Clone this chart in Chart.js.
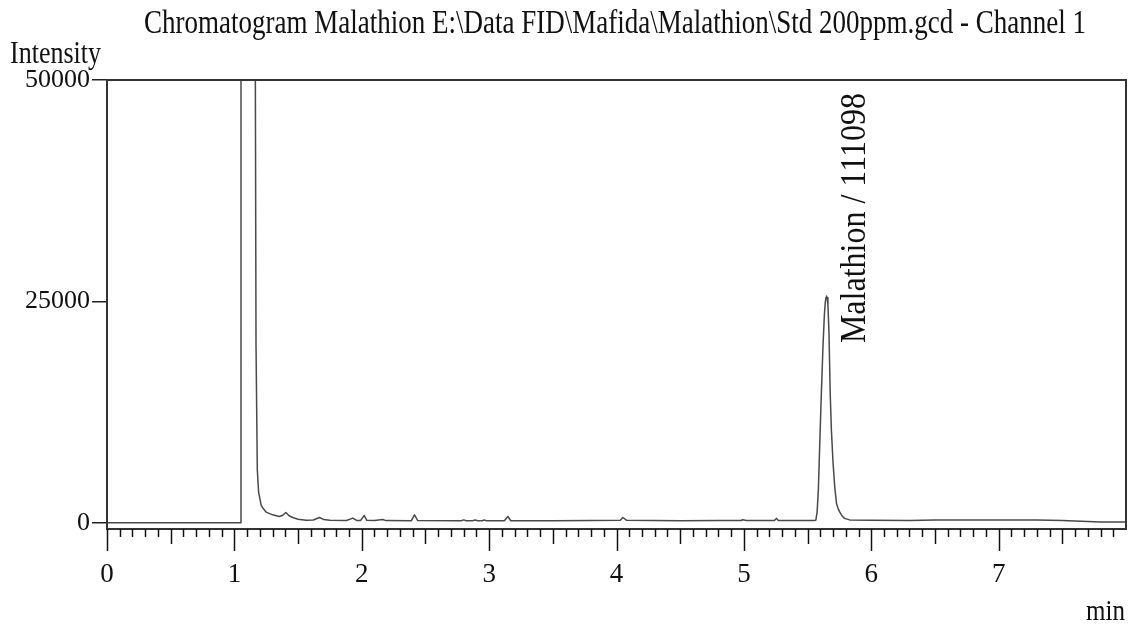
<!DOCTYPE html>
<html>
<head>
<meta charset="utf-8">
<script src="https://cdn.jsdelivr.net/npm/chart.js@4.4.1/dist/chart.umd.min.js"></script>
<style>
html,body{margin:0;padding:0;background:#fff;}
#wrap{width:1136px;height:627px;}
</style>
</head>
<body>
<div id="wrap"><canvas id="c" width="1136" height="627"></canvas></div>
<script>
// ---- data ----
const titleText = "Chromatogram Malathion E:\\Data FID\\Mafida\\Malathion\\Std 200ppm.gcd - Channel 1";
const yAxisTitle = "Intensity";
const xAxisTitle = "min";
const yTickValues = [0, 25000, 50000];
const xTickValues = [0, 1, 2, 3, 4, 5, 6, 7];
const peakLabelText = ["Malathion / 111098"];
const peakLabelTime = [5.65];
const peakLabelHeight = [25600];

const times = [
  0, 0.5, 1.0, 1.052, 1.056, 1.16, 1.163, 1.17, 1.18, 1.19, 1.21, 1.222, 1.25, 1.30,
  1.353, 1.38, 1.404, 1.43, 1.458, 1.50, 1.563, 1.62, 1.668, 1.70, 1.75, 1.88, 1.93,
  1.96, 1.99, 2.02, 2.04, 2.10, 2.165, 2.19, 2.39, 2.414, 2.44, 2.78, 2.80, 2.82,
  2.87, 2.89, 2.91, 2.95, 2.96, 2.98, 3.12, 3.147, 3.17, 3.5, 3.8, 4.03, 4.05, 4.08,
  4.5, 4.8, 4.98, 4.99, 5.02, 5.24, 5.255, 5.27, 5.55, 5.565, 5.575, 5.585, 5.595,
  5.608, 5.621, 5.632, 5.64, 5.645, 5.649, 5.654, 5.66, 5.668, 5.678, 5.687, 5.70,
  5.713, 5.727, 5.74, 5.753, 5.77, 5.79, 5.83, 6.0, 6.3, 6.5, 7.0, 7.3, 7.5, 7.8, 8.0
];
const intensity = [
  0, 0, 0, 0, 2000000, 2000000, 60000, 20000, 6000, 3500, 2000, 1700, 1200, 900,
  710, 850, 1160, 800, 600, 400, 300, 320, 600, 380, 300, 260, 530,
  270, 260, 820, 280, 250, 380, 250, 240, 900, 250, 240, 330, 240,
  240, 320, 240, 240, 320, 240, 230, 710, 230, 220, 250, 280, 600, 280,
  230, 260, 260, 350, 250, 250, 500, 260, 270, 300, 1200, 3800, 8600,
  14500, 19900, 23500, 25000, 25450, 25600, 25400, 24600, 21500, 14500, 10500, 6800,
  4100, 2200, 1600, 1200, 800, 500, 330, 280, 260, 320, 330, 320, 250, 100, 80
];

const serif = '"Liberation Serif", "Times New Roman", serif';

function stretchedText(ctx, text, x, y, sy) {
  ctx.save();
  ctx.translate(x, y);
  ctx.scale(1, sy);
  ctx.fillText(text, 0, 0);
  ctx.restore();
}

const decorPlugin = {
  id: 'decor',
  afterDraw(chart) {
    const ctx = chart.ctx;
    const a = chart.chartArea;
    const xs = chart.scales.x, ys = chart.scales.y;
    ctx.save();
    // plot frame
    ctx.strokeStyle = '#333';
    ctx.lineWidth = 2;
    ctx.strokeRect(a.left, a.top, a.right - a.left, a.bottom - a.top);
    // x ticks: every 0.1 min, longer at 0.5 and 1
    ctx.strokeStyle = '#111';
    ctx.lineWidth = 1.5;
    for (let i = 0; i < 80; i++) {
      const v = i / 10;
      const px = Math.round(xs.getPixelForValue(v)) + 0.5;
      const len = (i % 10 === 0) ? 22 : (i % 5 === 0 ? 15 : 8);
      ctx.beginPath();
      ctx.moveTo(px, a.bottom);
      ctx.lineTo(px, a.bottom + len);
      ctx.stroke();
    }
    // texts
    ctx.fillStyle = '#111';
    ctx.textBaseline = 'alphabetic';
    ctx.font = '27px ' + serif;
    ctx.textAlign = 'center';
    stretchedText(ctx, titleText, 615, 33, 1.25);
    ctx.font = '26px ' + serif;
    ctx.textAlign = 'left';
    stretchedText(ctx, yAxisTitle, 10, 63, 1.2);
    ctx.font = '25px ' + serif;
    ctx.textAlign = 'right';
    stretchedText(ctx, xAxisTitle, 1125, 620, 1.2);
    // peak label (rotated)
    ctx.font = '32px ' + serif;
    for (let i = 0; i < peakLabelText.length; i++) {
      const px = xs.getPixelForValue(peakLabelTime[i]) + 29;
      const py = ys.getPixelForValue(peakLabelHeight[i]) + 47;
      ctx.save();
      ctx.translate(px, py);
      ctx.rotate(-Math.PI / 2);
      ctx.scale(1, 1.15);
      ctx.textAlign = 'left';
      ctx.textBaseline = 'middle';
      ctx.fillText(peakLabelText[i], 0, 0);
      ctx.restore();
    }
    ctx.restore();
  }
};

new Chart(document.getElementById('c'), {
  type: 'scatter',
  data: {
    datasets: [{
      data: times.map((t, i) => ({x: t, y: intensity[i]})),
      showLine: true,
      borderColor: '#4a4a4a',
      borderWidth: 1.5,
      borderJoinStyle: 'round',
      pointRadius: 0,
      tension: 0,
      fill: false
    }]
  },
  options: {
    responsive: false,
    animation: false,
    events: [],
    layout: {padding: {top: 80, right: 10, left: 0, bottom: 0}},
    plugins: {legend: {display: false}, title: {display: false}, tooltip: {enabled: false}},
    scales: {
      x: {
        type: 'linear', min: 0, max: 8,
        afterFit: s => { s.height = 98; },
        afterBuildTicks: s => { s.ticks = xTickValues.map(v => ({value: v})); },
        grid: {display: false, drawTicks: false},
        border: {display: false},
        ticks: {color: '#111', font: {family: serif, size: 27}, padding: 30, maxRotation: 0, autoSkip: false,
                callback: v => String(v)}
      },
      y: {
        type: 'linear', min: -700, max: 50000,
        afterFit: s => { s.width = 107; },
        afterBuildTicks: s => { s.ticks = yTickValues.map(v => ({value: v})); },
        grid: {drawOnChartArea: false, drawTicks: true, tickLength: 15, color: '#222', lineWidth: 1.5},
        border: {display: false},
        ticks: {color: '#111', font: {family: serif, size: 26}, padding: 2, callback: v => String(v)}
      }
    }
  },
  plugins: [decorPlugin]
});
</script>
</body>
</html>
